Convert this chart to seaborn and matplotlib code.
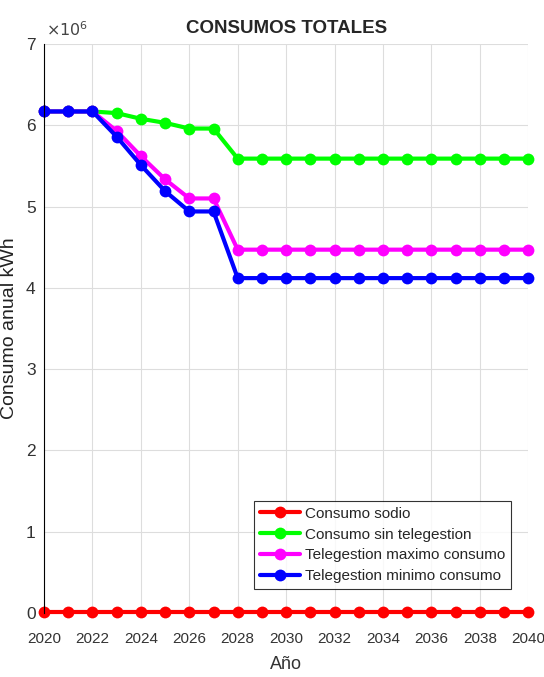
import numpy as np
import pandas as pd
import matplotlib
matplotlib.use("Agg")
import matplotlib.pyplot as plt
import seaborn as sns

years = list(range(2020, 2041))
sodio = [0.015e6] * 21
sin_tele = [6.17e6, 6.17e6, 6.17e6, 6.15e6, 6.08e6, 6.03e6, 5.96e6, 5.96e6] + [5.59e6] * 13
tele_max = [6.17e6, 6.17e6, 6.17e6, 5.93e6, 5.62e6, 5.335e6, 5.10e6, 5.10e6] + [4.47e6] * 13
tele_min = [6.17e6, 6.17e6, 6.17e6, 5.86e6, 5.51e6, 5.19e6, 4.94e6, 4.94e6] + [4.12e6] * 13
names = ["Consumo sodio", "Consumo sin telegestion",
         "Telegestion maximo consumo", "Telegestion minimo consumo"]
colors = ["#ff0000", "#00ff00", "#ff00ff", "#0000ff"]

df = pd.concat([
    pd.DataFrame({"Año": years, "valor": v, "serie": n})
    for v, n in zip([sodio, sin_tele, tele_max, tele_min], names)
])

sns.set_theme(style="whitegrid")
plt.rcParams["font.family"] = ["Liberation Sans", "DejaVu Sans"]

fig = plt.figure(figsize=(5.44, 6.77), dpi=100)
ax = fig.add_axes([0.081, 0.0945, 0.89, 0.8405])
sns.lineplot(data=df, x="Año", y="valor", hue="serie", palette=colors,
             marker="o", markersize=8.5, linewidth=3, markeredgewidth=0,
             ax=ax, legend=True, clip_on=False)

ax.set_xlim(2020, 2040)
ax.set_ylim(0, 7e6)
ax.set_xticks(range(2020, 2041, 2))
ax.set_xticklabels([str(y) for y in range(2020, 2041, 2)])
ax.set_yticks(np.arange(0, 8) * 1e6)
ax.set_yticklabels([str(i) for i in range(8)])
ax.text(0.005, 1.008, r"$\times10^6$", transform=ax.transAxes, fontsize=11.5,
        color="#444444", ha="left", va="bottom")
ax.tick_params(axis="x", labelsize=11, colors="#333333", length=0, pad=14)
ax.tick_params(axis="y", labelsize=12.5, colors="#333333", length=3, pad=3)
ax.set_xlabel("Año", fontsize=13, color="#333333", labelpad=7)
ax.set_ylabel("Consumo anual kWh", fontsize=14, color="#222222", labelpad=6)
ax.set_title("CONSUMOS TOTALES", fontsize=13.5, fontweight="bold", pad=8)
ax.grid(True, color="#dddddd", linewidth=0.8)
for s in ["top", "right", "bottom"]:
    ax.spines[s].set_visible(False)
ax.spines["left"].set_color("black")
ax.spines["left"].set_linewidth(0.8)

leg = ax.legend(loc="lower right", bbox_to_anchor=(0.98, 0.028), fontsize=11,
                frameon=True, fancybox=False, handlelength=2.6,
                borderpad=0.4, labelspacing=0.45, handletextpad=0.3)
leg.get_frame().set_edgecolor("black")
leg.get_frame().set_linewidth(0.8)

fig.savefig("out.png", dpi=100)
